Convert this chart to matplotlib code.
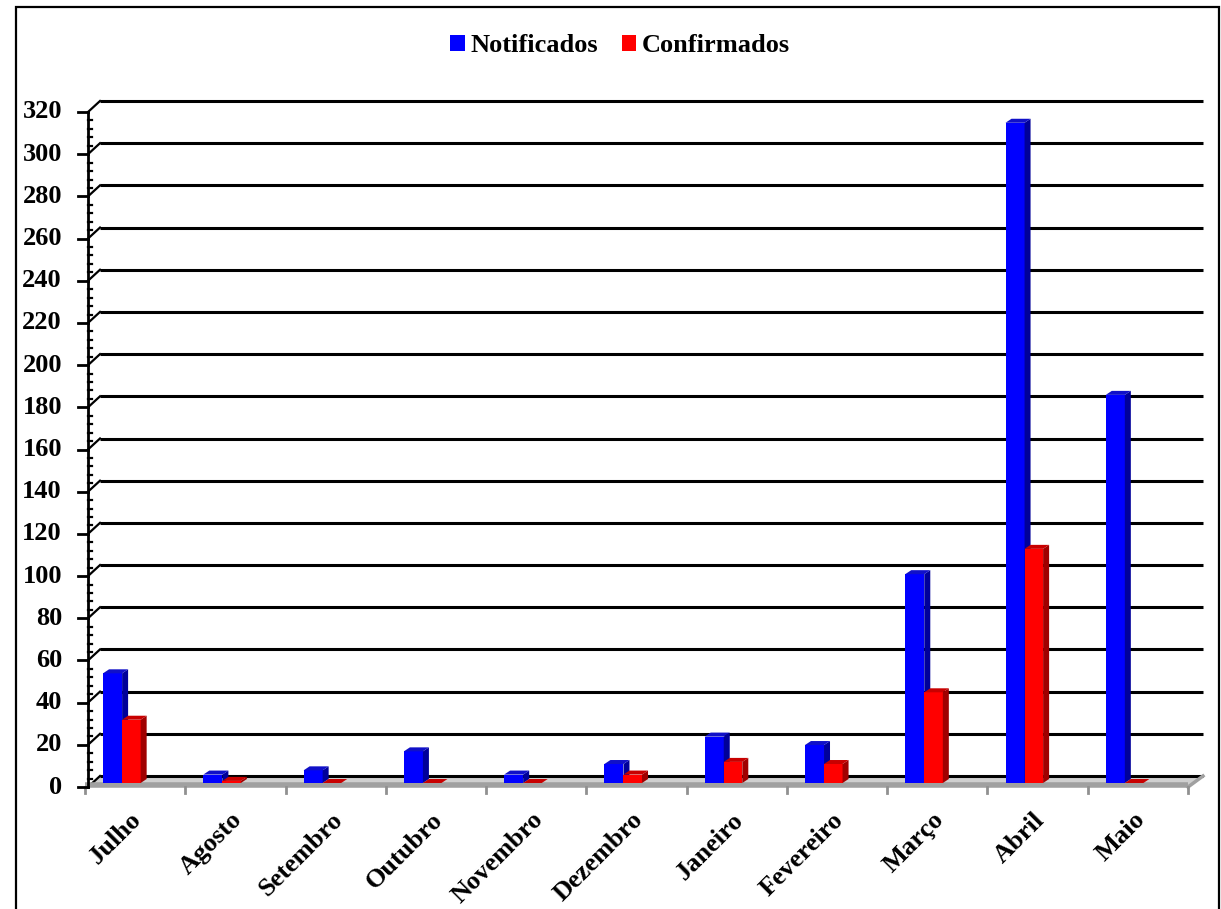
import matplotlib
matplotlib.use("Agg")
import matplotlib.pyplot as plt
from matplotlib.patches import Polygon, Rectangle, Patch

months = ["Julho", "Agosto", "Setembro", "Outubro", "Novembro", "Dezembro",
          "Janeiro", "Fevereiro", "Março", "Abril", "Maio"]
notificados = [52, 4, 6, 15, 4, 9, 22, 18, 99, 313, 184]
confirmados = [30, 1, 0, 0, 0, 4, 10, 9, 43, 111, 0]
yticks = list(range(0, 321, 20))

font = {"family": "Liberation Serif", "weight": "bold"}
fsize = 19

fig = plt.figure(figsize=(12.21, 9.09), dpi=100)
fig.patch.set_facecolor("white")

# outer frame of the chart area
fig.add_artist(Rectangle((16 / 1221, -0.05), (1219 - 16) / 1221, 1.05 - 7 / 909,
                         transform=fig.transFigure, fill=False, lw=1.6, ec="black"))

ax = fig.add_axes([85 / 1221, (909 - 787) / 909, (1188 - 85) / 1221, (787 - 112) / 909])
ax.set_xlim(0, 11)
ax.set_ylim(0, 320)
ax.axis("off")

# depth of the back wall, in data units (15 px right, 11 px up)
px_x = 1103 / 11
px_y = 675 / 320
bx, by = 15 / px_x, 11 / px_y

# floor slab
ax.add_patch(Polygon([(0, 0), (11, 0), (11 + bx, by), (bx, by)], fc="#cfcfcf", ec="none",
                     zorder=1, clip_on=False))
ax.plot([0, 11], [1.0, 1.0], color="#a0a0a0", lw=4, zorder=4, clip_on=False,
        solid_capstyle="butt")
ax.plot([11, 11 + bx], [0, by], color="#a0a0a0", lw=2.5, zorder=4, clip_on=False)

# back wall gridlines + diagonals to the axis
for v in yticks:
    ax.plot([bx, 11 + bx], [v + by, v + by], color="black", lw=2.2, zorder=2, clip_on=False,
            solid_capstyle="butt")
    ax.plot([0.03, bx], [v, v + by], color="black", lw=1.6, zorder=3, clip_on=False)

# category ticks on the floor edge
for i in range(len(months) + 1):
    ax.plot([i, i], [0, -3], color="#909090", lw=2, zorder=4, clip_on=False)

# y axis
ax.plot([0.03, 0.03], [0, 320], color="black", lw=2, zorder=5, clip_on=False)
for v in yticks:
    ax.plot([-0.07, 0.03], [v, v], color="black", lw=2, zorder=5, clip_on=False)
    ax.text(-0.23, v, str(v), ha="right", va="center", fontsize=fsize, **font)
for v in range(0, 321, 4):
    if v % 20:
        ax.plot([0.03, 0.07], [v, v], color="black", lw=1.6, zorder=5, clip_on=False)

# 3D-looking bars
base = 4 / px_y
ddx, ddy = 6 / px_x, 4 / px_y


def bar3d(x0, x1, h, front, side, top):
    y1 = base + h
    ax.add_patch(Rectangle((x0, base), x1 - x0, h, fc=front, ec="none", zorder=6))
    ax.add_patch(Polygon([(x1, base), (x1 + ddx, base + ddy), (x1 + ddx, y1 + ddy), (x1, y1)],
                         fc=side, ec="none", zorder=6))
    ax.add_patch(Polygon([(x0, y1), (x1, y1), (x1 + ddx, y1 + ddy), (x0 + ddx, y1 + ddy)],
                         fc=top, ec="none", zorder=6))


for i, (n, c) in enumerate(zip(notificados, confirmados)):
    bar3d(i + 0.18, i + 0.37, n, "#0000ff", "#00009a", "#1010c8")
    bar3d(i + 0.37, i + 0.555, c, "#ff0000", "#a00000", "#c80000")

# category labels
for i, m in enumerate(months):
    ax.text(i + 0.45, -10, m, rotation=45, ha="right", va="top", rotation_mode="anchor",
            fontsize=fsize, **font)

# legend
handles = [Patch(fc="#0000ff", ec="none", label="Notificados"),
           Patch(fc="#ff0000", ec="none", label="Confirmados")]
fig.legend(handles=handles, loc="center", bbox_to_anchor=(620 / 1221, 1 - 46 / 909), ncol=2,
           frameon=False, prop={"family": "Liberation Serif", "weight": "bold", "size": fsize},
           handlelength=0.55, handleheight=0.55, handletextpad=0.2, columnspacing=0.9)

fig.savefig("out.png", dpi=100)
